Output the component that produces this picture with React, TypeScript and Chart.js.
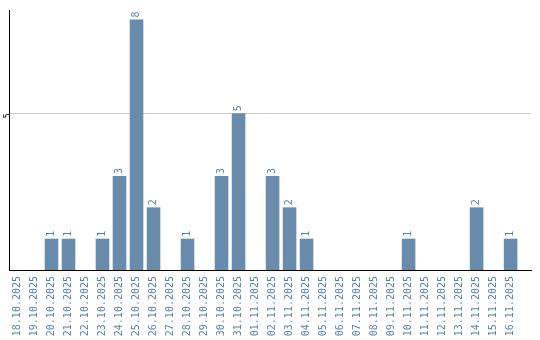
import React, { useEffect, useRef } from "react";
import { Chart, registerables } from "chart.js";

Chart.register(...registerables);

const categories: string[] = [
  "18.10.2025", "19.10.2025", "20.10.2025", "21.10.2025", "22.10.2025",
  "23.10.2025", "24.10.2025", "25.10.2025", "26.10.2025", "27.10.2025",
  "28.10.2025", "29.10.2025", "30.10.2025", "31.10.2025", "01.11.2025",
  "02.11.2025", "03.11.2025", "04.11.2025", "05.11.2025", "06.11.2025",
  "07.11.2025", "08.11.2025", "09.11.2025", "10.11.2025", "11.11.2025",
  "12.11.2025", "13.11.2025", "14.11.2025", "15.11.2025", "16.11.2025",
];
const counts: number[] = [
  0, 0, 1, 1, 0, 1, 3, 8, 2, 0, 1, 0, 3, 5, 0,
  3, 2, 1, 0, 0, 0, 0, 0, 1, 0, 0, 0, 2, 0, 1,
];
const yTickValues: number[] = [5];

const BAR = "#6a8cac";
const TEXT = "#5b80a8";
const FONT = "'DejaVu Sans Mono', monospace";

const valueLabels = {
  id: "valueLabels",
  afterDatasetsDraw(chart: any) {
    const ctx = chart.ctx;
    const meta = chart.getDatasetMeta(0);
    ctx.save();
    ctx.fillStyle = TEXT;
    ctx.font = `10px ${FONT}`;
    ctx.textAlign = "left";
    ctx.textBaseline = "middle";
    meta.data.forEach((el: any, i: number) => {
      const v = counts[i];
      if (!v) return;
      ctx.save();
      ctx.translate(el.x, el.y - 2);
      ctx.rotate(-Math.PI / 2);
      ctx.fillText(String(v), 0, 0);
      ctx.restore();
    });
    ctx.restore();
  },
};

export default function App() {
  const ref = useRef<HTMLCanvasElement | null>(null);
  useEffect(() => {
    document.body.style.margin = "0";
    const chart = new Chart(ref.current!, {
      type: "bar",
      data: {
        labels: categories,
        datasets: [
          {
            data: counts,
            backgroundColor: BAR,
            barPercentage: 0.8,
            categoryPercentage: 1,
          },
        ],
      },
      options: {
        animation: false,
        responsive: false,
        layout: { padding: { top: 10, right: 9, left: 0, bottom: 0 } },
        plugins: { legend: { display: false }, tooltip: { enabled: false } },
        scales: {
          x: {
            grid: { display: false, drawTicks: false },
            border: { display: true, color: "#000000", width: 1 },
            ticks: {
              color: TEXT,
              font: { family: FONT, size: 10 },
              minRotation: 90,
              maxRotation: 90,
              autoSkip: false,
              padding: 6,
            },
            afterBuildTicks: (axis: any) => {
              // leave some empty room on the right of the last category
              axis._valueRange = categories.length + 0.7;
            },
            afterFit: (axis: any) => {
              axis.height = 70;
            },
          },
          y: {
            min: 0,
            max: 8.3,
            grid: { color: "#cccccc", drawTicks: false },
            border: { display: true, color: "#000000", width: 1 },
            ticks: {
              color: "#000000",
              font: { family: FONT, size: 8 },
              minRotation: 90,
              maxRotation: 90,
              padding: 1,
            },
            afterBuildTicks: (axis: any) => {
              axis.ticks = yTickValues.map((v) => ({ value: v }));
            },
            afterFit: (axis: any) => {
              axis.width = 9;
            },
          },
        },
      },
      plugins: [valueLabels],
    });
    return () => chart.destroy();
  }, []);
  return <canvas ref={ref} width={540} height={340} style={{ display: "block" }} />;
}
